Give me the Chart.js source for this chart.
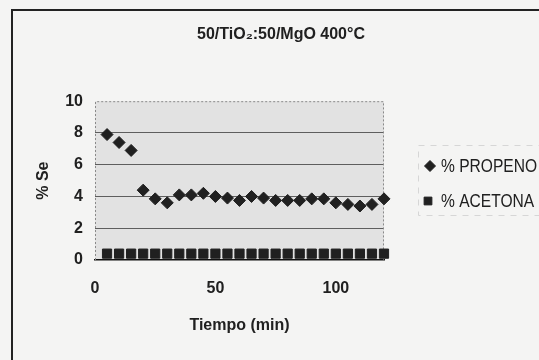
<!DOCTYPE html>
<html>
<head>
<meta charset="utf-8">
<script src="https://cdn.jsdelivr.net/npm/chart.js@4/dist/chart.umd.min.js"></script>
<style>
  html, body { margin: 0; padding: 0; background: #f4f4f3; }
  #wrap { width: 539px; height: 360px; }
</style>
</head>
<body>
<div id="wrap"><canvas id="my-chart" width="539" height="360"></canvas></div>
<script>
'use strict';

// ************************* DATA ***************************

let tiempo = [5, 10, 15, 20, 25, 30, 35, 40, 45, 50, 55, 60, 65, 70, 75, 80, 85, 90, 95, 100, 105, 110, 115, 120];
let propeno = [7.9, 7.4, 6.9, 4.4, 3.85, 3.6, 4.1, 4.1, 4.2, 4.0, 3.9, 3.75, 4.0, 3.9, 3.75, 3.75, 3.75, 3.85, 3.85, 3.6, 3.5, 3.4, 3.5, 3.85];
let acetona = [0.4, 0.4, 0.4, 0.4, 0.4, 0.4, 0.4, 0.4, 0.4, 0.4, 0.4, 0.4, 0.4, 0.4, 0.4, 0.4, 0.4, 0.4, 0.4, 0.4, 0.4, 0.4, 0.4, 0.4];
let xTicks = [0, 50, 100];
let yTicks = [0, 2, 4, 6, 8, 10];

let titulo = '50/TiO\u2082:50/MgO 400\u00B0C';
let family = '"Liberation Sans", Arial, sans-serif';
let ink = '#202020';

// ************************* PLUGINS ***************************

// paper, plot background and the dotted frame of the plot
let paperPlugin = {
  id: 'paper',
  beforeDraw(chart) {
    let ctx = chart.ctx;
    let a = chart.chartArea;
    ctx.save();
    ctx.fillStyle = '#f4f4f3';
    ctx.fillRect(0, 0, chart.width, chart.height);
    ctx.fillStyle = '#e2e2e2';
    ctx.fillRect(a.left, a.top, a.right - a.left, a.bottom - a.top);
    // outer frame (right and bottom edges fall outside the canvas)
    ctx.strokeStyle = '#222';
    ctx.lineWidth = 2;
    ctx.strokeRect(12, 10, chart.width + 20, chart.height + 20);
    ctx.restore();
  },
  beforeDatasetsDraw(chart) {
    let ctx = chart.ctx;
    let a = chart.chartArea;
    ctx.save();
    ctx.strokeStyle = '#8a8a8a';
    ctx.lineWidth = 1;
    ctx.setLineDash([2, 2]);
    ctx.beginPath();
    ctx.moveTo(a.left + 0.5, a.bottom);
    ctx.lineTo(a.left + 0.5, a.top + 0.5);
    ctx.lineTo(a.right - 0.5, a.top + 0.5);
    ctx.lineTo(a.right - 0.5, a.bottom);
    ctx.stroke();
    ctx.restore();
  }
};

// legend on the right, drawn by hand so it can sit where it needs to
let legendPlugin = {
  id: 'sideLegend',
  afterDraw(chart) {
    let ctx = chart.ctx;
    let x0 = 430;
    let rows = [166, 201];
    ctx.save();
    ctx.strokeStyle = '#d6d6d6';
    ctx.lineWidth = 1;
    ctx.setLineDash([6, 6]);
    ctx.strokeRect(418.5, 145.5, 140, 70);
    ctx.setLineDash([]);
    chart.data.datasets.forEach((ds, i) => {
      ctx.fillStyle = ink;
      ctx.strokeStyle = ink;
      Chart.helpers.drawPoint(ctx, {
        pointStyle: ds.pointStyle,
        radius: 5.5,
        rotation: 0,
        borderWidth: 1
      }, x0 - (i === 1 ? 2 : 0), rows[i]);
      // narrow lettering: squeeze the text sideways
      ctx.save();
      ctx.translate(441, rows[i] + 1);
      ctx.scale(0.82, 1);
      ctx.font = '19px ' + family;
      ctx.textBaseline = 'middle';
      ctx.textAlign = 'left';
      ctx.fillText(ds.label, 0, 0);
      ctx.restore();
    });
    ctx.restore();
  }
};

// ************************* CHART ***************************

let ctx = document.getElementById('my-chart').getContext('2d');

let myChartObj = {
  type: 'scatter',
  data: {
    datasets: [{
      label: '% PROPENO',
      data: tiempo.map((t, i) => ({ x: t, y: propeno[i] })),
      pointStyle: 'rectRot',
      pointRadius: 6,
      backgroundColor: ink,
      borderColor: ink,
      borderWidth: 1,
      clip: false
    },
    {
      label: '% ACETONA',
      data: tiempo.map((t, i) => ({ x: t, y: acetona[i] })),
      pointStyle: 'rect',
      pointRadius: 6.5,
      backgroundColor: ink,
      borderColor: ink,
      borderWidth: 1,
      clip: false
    }]
  },
  options: {
    responsive: false,
    animation: false,
    devicePixelRatio: 1,
    layout: { padding: { left: 23, right: 0, top: 0, bottom: 0 } },
    plugins: {
      legend: { display: false },
      tooltip: { enabled: false },
      title: {
        display: true,
        text: titulo,
        color: ink,
        font: { family: family, size: 16, weight: 'bold' },
        padding: { top: 25, bottom: 57 }
      }
    },
    scales: {
      x: {
        type: 'linear',
        min: 0,
        max: 120,
        afterBuildTicks: s => { s.ticks = xTicks.map(v => ({ value: v })); },
        afterFit: s => { s.height = 100; },
        grid: { display: false, drawTicks: false, tickLength: 0 },
        border: { display: true, color: '#111', width: 1.5 },
        ticks: { padding: 19, color: ink, font: { family: family, size: 16, weight: 'bold' } },
        title: {
          display: true,
          text: 'Tiempo (min)',
          color: ink,
          font: { family: family, size: 16, weight: 'bold' },
          padding: { top: 0, bottom: 25 }
        }
      },
      y: {
        type: 'linear',
        min: 0,
        max: 10,
        afterBuildTicks: s => { s.ticks = yTicks.map(v => ({ value: v })); },
        afterFit: s => { s.width = 72; },
        grid: {
          drawTicks: false,
          tickLength: 0,
          lineWidth: 1,
          color: c => (c.tick && (c.tick.value === 0 || c.tick.value === 10)) ? 'rgba(0,0,0,0)' : '#5e5e5e'
        },
        border: { display: false },
        ticks: { padding: 12, color: ink, font: { family: family, size: 16, weight: 'bold' } },
        title: {
          display: true,
          text: '% Se',
          color: ink,
          font: { family: family, size: 16, weight: 'bold' },
          padding: { top: 11, bottom: 0 }
        }
      },
      // empty axis that keeps room for the legend
      yR: {
        position: 'right',
        afterFit: s => { s.width = 155; },
        grid: { display: false, drawTicks: false },
        border: { display: false },
        ticks: { display: false }
      }
    }
  },
  plugins: [paperPlugin, legendPlugin]
};

new Chart(ctx, myChartObj);
</script>
</body>
</html>
